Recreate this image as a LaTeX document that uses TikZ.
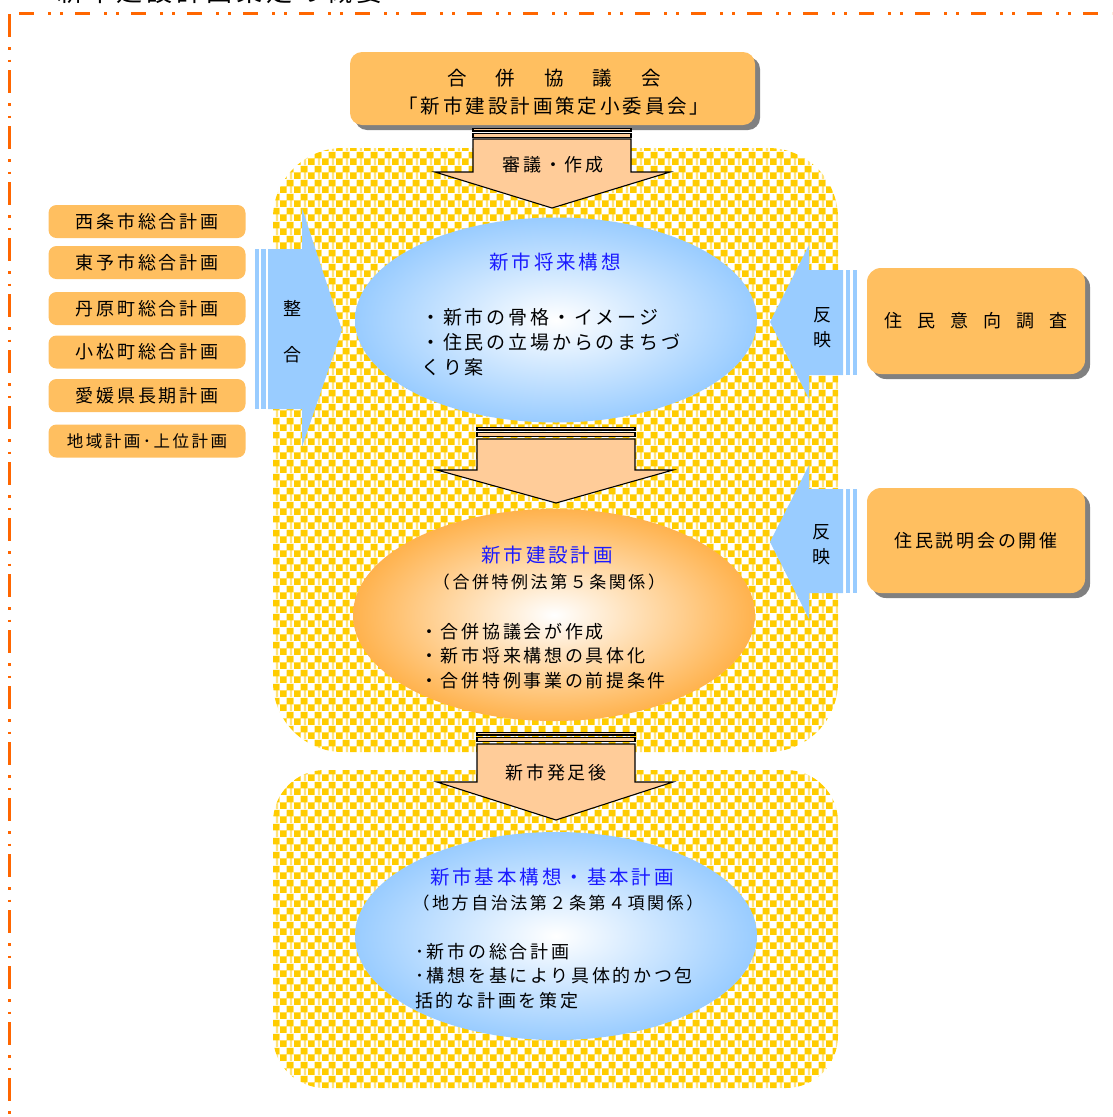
\documentclass[tikz,border=0pt]{standalone}
\usepackage{fontspec}
\setmainfont{Noto Sans CJK JP}[LetterSpace=15]
\usetikzlibrary{shapes.geometric,shadows,patterns}
\definecolor{boxor}{HTML}{FFBF60}
\definecolor{peach}{HTML}{FFCC99}
\definecolor{skyb}{HTML}{99CCFF}
\definecolor{ellor}{HTML}{FFB24D}
\definecolor{chky}{HTML}{FFCC00}
\definecolor{chks}{HTML}{FFE27A}
\definecolor{bord}{HTML}{FF6600}
\definecolor{ttlblue}{HTML}{1A1AFF}
\pgfdeclarepatterninherentlycolored{yellowcheck}
{\pgfpointorigin}{\pgfqpoint{14pt}{14pt}}{\pgfqpoint{14pt}{14pt}}
{%
\pgfsetfillcolor{white}%
\pgfpathrectangle{\pgfpointorigin}{\pgfqpoint{14pt}{14pt}}\pgfusepath{fill}%
\pgfsetfillcolor{chks}%
\pgfpathrectangle{\pgfqpoint{10.5pt}{0pt}}{\pgfqpoint{2.5pt}{14pt}}\pgfusepath{fill}%
\pgfsetfillcolor{chky}%
\pgfpathrectangle{\pgfpointorigin}{\pgfqpoint{7pt}{7pt}}%
\pgfpathrectangle{\pgfqpoint{7pt}{7pt}}{\pgfqpoint{7pt}{7pt}}%
\pgfusepath{fill}%
}
\tikzset{
  obox/.style={fill=boxor, rounded corners=8pt, inner sep=0pt, font=\fontsize{18}{24}\selectfont},
  shadowed/.style={drop shadow={shadow xshift=5pt, shadow yshift=-5pt, fill=black!50, opacity=1}},
  txt/.style={inner sep=0pt, font=\fontsize{18}{24.5}\selectfont},
  ttl/.style={inner sep=0pt, text=ttlblue, font=\fontsize{19.5}{24}\selectfont},
  sub/.style={inner sep=0pt, font=\fontsize{17}{22}\selectfont},
  darrow/.style={fill=peach, draw=black, line width=1.1pt, line join=miter},
  checker/.style={pattern=yellowcheck},
  ell/.style={ellipse, minimum width=402pt, minimum height=205pt, inner sep=0pt},
}
\begin{document}
\begin{tikzpicture}[x=1pt,y=-1pt]
\useasboundingbox (0,0) rectangle (1112,1117);
% frame and clipped heading
\node[anchor=base west, inner sep=0pt, font=\fontsize{26}{26}\selectfont] (heading) at (57,1) {新市建設計画策定の概要};
\draw[bord, line width=3pt, dash pattern=on 15pt off 14pt on 3pt off 9pt on 3pt off 12pt] (19,13) -- (1112,13);
\draw[bord, line width=3pt, dash pattern=on 23pt off 10pt on 2.5pt off 10pt on 2.5pt off 8pt] (9,14) -- (9,1117);
% checker regions
\fill[checker, rounded corners=70pt] (273,148) rectangle (838,752);
\fill[checker, rounded corners=52pt] (273,770) rectangle (838,1088);
% top box
\node[obox, shadowed, rounded corners=12pt, minimum width=405pt, minimum height=73pt] (council) at (552.5,88.5) {};
\node[inner sep=0pt, font=\fontsize{19.5}{28}\selectfont, align=center] (councilt) at (554,92) {合\hspace{29pt}併\hspace{29pt}協\hspace{29pt}議\hspace{29pt}会\\「新市建設計画策定小委員会」};
% down arrow 1
\filldraw[darrow] (473,128.5) rectangle (631,131);
\filldraw[darrow] (473,133.5) rectangle (631,137.5);
\filldraw[darrow] (473,139) -- (473,172) -- (435,172) -- (552,208) -- (670,172) -- (631,172) -- (631,139) -- cycle;
\node[txt] (a1) at (553,165) {審議・作成};
% down arrow 2
\filldraw[darrow] (477,427.5) rectangle (635,430);
\filldraw[darrow] (477,432.5) rectangle (635,436.5);
\filldraw[darrow] (477,439) -- (477,470) -- (437,470) -- (556,503) -- (673,470) -- (635,470) -- (635,439) -- cycle;
% down arrow 3
\filldraw[darrow] (477,732.5) rectangle (635,735);
\filldraw[darrow] (477,737.5) rectangle (635,741.5);
\filldraw[darrow] (477,744) -- (477,782) -- (437,782) -- (556,820) -- (673,782) -- (635,782) -- (635,744) -- cycle;
\node[txt] (a3) at (556,773) {新市発足後};
% ellipse 1
\node[ell, inner color=white, outer color=skyb] (e1) at (556,320) {};
\node[ttl] (e1t) at (555,262) {新市将来構想};
\node[txt, anchor=west, align=left, font=\fontsize{19}{25}\selectfont] (e1b) at (421,342) {・新市の骨格・イメージ\\・住民の立場からのまちづ\\くり案};
% ellipse 2
\node[ell, minimum height=212pt, inner color=white, outer color=ellor] (e2) at (554,615) {};
\node[ttl] (e2t) at (547,555) {新市建設計画};
\node[sub] (e2s) at (549,582) {（合併特例法第５条関係）};
\node[txt, anchor=west, align=left] (e2b) at (420,656) {・合併協議会が作成\\・新市将来構想の具体化\\・合併特例事業の前提条件};
% ellipse 3
\node[ell, minimum height=208pt, inner color=white, outer color=skyb] (e3) at (556,936) {};
\node[ttl] (e3t) at (552,877) {新市基本構想・基本計画};
\node[sub] (e3s) at (558,903) {（地方自治法第２条第４項関係）};
\node[txt, anchor=west, align=left] (e3b) at (415,976) {･新市の総合計画\\･構想を基により具体的かつ包\\括的な計画を策定};
% left boxes
\node[obox, minimum width=197pt, minimum height=33pt] (p1) at (147,221.5) {西条市総合計画};
\node[obox, minimum width=197pt, minimum height=33pt] (p2) at (147,262.5) {東予市総合計画};
\node[obox, minimum width=197pt, minimum height=33pt] (p3) at (147,308.5) {丹原町総合計画};
\node[obox, minimum width=197pt, minimum height=33pt] (p4) at (147,352) {小松町総合計画};
\node[obox, minimum width=197pt, minimum height=33pt] (p5) at (147,395.5) {愛媛県長期計画};
\node[obox, minimum width=197pt, minimum height=33pt, font=\fontsize{16.5}{20}\selectfont] (p6) at (147,441) {地域計画･上位計画};
% left arrow
\fill[skyb] (255,249) rectangle (258.5,409);
\fill[skyb] (261,249) rectangle (265.5,409);
\fill[skyb] (268,249) -- (302,249) -- (302,208) -- (342,330) -- (302,447) -- (302,409) -- (268,409) -- cycle;
\node[txt] (la1) at (292,308) {整};
\node[txt] (la2) at (292,355) {合};
% right arrow A
\fill[skyb] (846,270) rectangle (850,375);
\fill[skyb] (852.5,270) rectangle (857,375);
\fill[skyb] (843,270) -- (809,270) -- (809,245) -- (770,322) -- (809,399) -- (809,375) -- (843,375) -- cycle;
\node[txt] (ra1) at (822,315) {反};
\node[txt] (ra2) at (822,340) {映};
% right arrow B
\fill[skyb] (846,489) rectangle (850,593);
\fill[skyb] (852.5,489) rectangle (857,593);
\fill[skyb] (843,489) -- (809,489) -- (809,465) -- (770,542) -- (809,619) -- (809,593) -- (843,593) -- cycle;
\node[txt] (rb1) at (821,532) {反};
\node[txt] (rb2) at (821,557) {映};
% right boxes
\node[obox, shadowed, rounded corners=14pt, minimum width=218pt, minimum height=106pt] (survey) at (976,321) {住\hspace{15pt}民\hspace{15pt}意\hspace{15pt}向\hspace{15pt}調\hspace{15pt}査};
\node[obox, shadowed, rounded corners=14pt, minimum width=218pt, minimum height=105pt] (meeting) at (976,540.5) {住民説明会の開催};
\end{tikzpicture}
\end{document}
